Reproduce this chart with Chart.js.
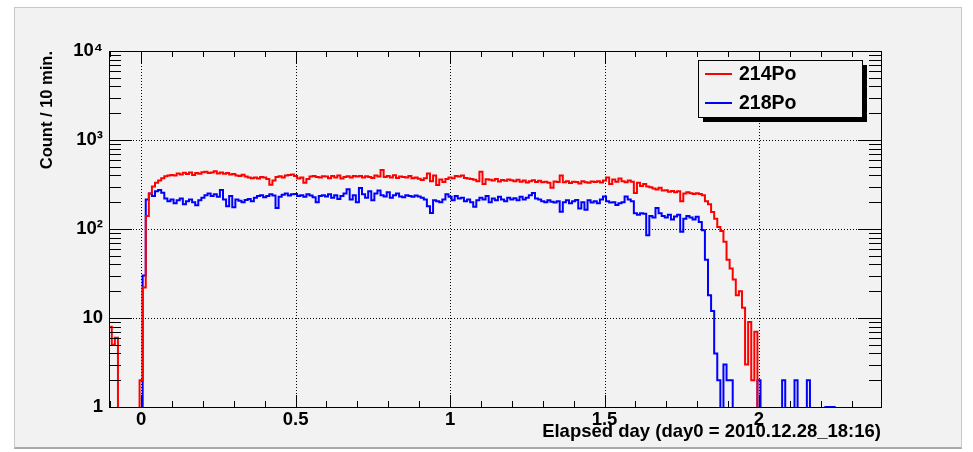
<!DOCTYPE html>
<html>
<head>
<meta charset="utf-8">
<script src="https://cdn.jsdelivr.net/npm/chart.js@4"></script>
<style>
  html, body { margin: 0; padding: 0; background: #fff; }
  #wrap { position: relative; width: 973px; height: 452px; overflow: hidden; }
  #pad { position: absolute; left: 14px; top: 7px; width: 946px; height: 439px;
         background: #f2f2f2; border: 1px solid #c8c8c8; border-bottom: 2px solid #a9a9a9; }
  canvas { position: absolute; left: 0; top: 0; }
</style>
</head>
<body>
<div id="wrap"><div id="pad"></div><canvas id="c" width="973" height="452"></canvas></div>
<script>
// histogram bins: 0.01 day wide, first bin centred on -0.10 day
const binStart = -0.10;
const binWidth = 0.01;

const seriesNames = ['214Po', '218Po'];
const seriesColors = ['#ff0000', '#0000ff'];

// counts / 10 min (0 = empty bin)
const po214 = [
  8, 5, 6, 0, 0, 0, 0, 0, 0, 0,
  2, 22, 140, 250, 300, 330, 350, 372, 392, 400,
  405, 398, 420, 410, 428, 415, 430, 405, 425, 418,
  435, 440, 425, 432, 445, 420, 430, 418, 425, 410,
  415, 400, 395, 408, 390, 378, 372, 380, 370, 385,
  378, 365, 315, 350, 385, 392, 380, 398, 405, 410,
  395, 370, 380, 330, 365, 390, 395, 385, 378, 392,
  388, 372, 395, 380, 398, 370, 385, 392, 378, 395,
  388, 395, 380, 392, 385, 375, 398, 390, 460, 385,
  395, 380, 402, 375, 390, 385, 378, 395, 372, 380,
  368, 355, 372, 420, 345, 400, 312, 360, 338, 365,
  380, 372, 395, 388, 400, 375, 370, 365, 358, 345,
  440, 320, 362, 358, 350, 365, 342, 355, 348, 360,
  352, 345, 358, 340, 350, 332, 345, 352, 338, 348,
  335, 340, 330, 290, 342, 338, 400, 335, 345, 328,
  340, 338, 325, 345, 335, 330, 342, 338, 345, 332,
  350, 380, 320, 360, 340, 370, 345, 335, 350, 340,
  253, 330, 305, 320, 300, 295, 285, 278, 290, 270,
  272, 262, 268, 258, 265, 205, 250, 258, 252, 248,
  252, 248, 240, 205, 190, 155, 130, 105, 95, 72,
  45, 36, 27, 18, 20, 13, 3, 9, 2, 7,
  0, 0, 0, 0, 0, 0, 0, 0, 0, 0,
  0, 0, 0, 0, 0, 0, 0, 0, 0, 0,
  0, 0, 0, 0, 0, 0, 0, 0, 0, 0,
  0, 0, 0, 0, 0, 0, 0, 0, 0, 0
];

const po218 = [
  0, 0, 0, 0, 0, 0, 0, 0, 0, 0,
  0, 30, 215, 250, 235, 265, 275, 255, 220, 205,
  215, 195, 210, 220, 190, 205, 215, 200, 185, 210,
  225, 240, 250, 235, 245, 230, 275, 215, 180, 235,
  175, 215, 208, 200, 212, 218, 205, 225, 235, 240,
  228, 235, 245, 238, 172, 230, 242, 250, 238, 245,
  248, 235, 240, 230, 245, 238, 228, 200, 235, 240,
  232, 245, 225, 240, 218, 235, 250, 280, 215, 240,
  200, 289, 245, 225, 265, 210, 250, 270, 240, 232,
  258, 225, 240, 250, 232, 228, 240, 235, 230, 238,
  232, 225, 215, 180, 151, 210, 205, 200, 215, 245,
  230, 210, 235, 220, 225, 205, 215, 200, 178, 210,
  225, 215, 235, 200, 220, 210, 230, 215, 205, 225,
  215, 222, 210, 230, 215, 225, 240, 253, 220, 215,
  205, 200, 210, 203, 198, 205, 156, 200, 210, 195,
  205, 212, 170, 200, 165, 210, 198, 205, 195, 215,
  232, 205, 198, 200, 186, 195, 200, 232, 215, 205,
  150, 145, 150, 148, 85, 140, 135, 172, 150, 140,
  135, 145, 128, 138, 145, 93, 130, 140, 135, 128,
  137, 120, 97, 45, 18, 12, 4, 2, 0, 3,
  2, 2, 0, 0, 0, 0, 0, 0, 0, 0,
  2, 0, 0, 0, 0, 0, 0, 0, 2, 0,
  0, 0, 2, 0, 0, 0, 2, 0, 0, 0,
  0, 0, 1, 1, 1, 0, 0, 0, 0, 0,
  0, 0, 0, 0, 0, 0, 0, 0, 0, 0
];

// axes
const xMin = -0.104, xMax = 2.395;
const xMajor = [0, 0.5, 1, 1.5, 2];
const xLabels = ['0', '0.5', '1', '1.5', '2'];
const xMinor = [-0.1, 0.1, 0.2, 0.3, 0.4, 0.6, 0.7, 0.8, 0.9, 1.1, 1.2, 1.3, 1.4,
                1.6, 1.7, 1.8, 1.9, 2.1, 2.2, 2.3];
const yMajor = [1, 10, 100, 1000, 10000];
const yLabels = ['1', '10', '10\u00b2', '10\u00b3', '10\u2074'];
const yMinorSteps = [2, 3, 4, 5, 6, 7, 8, 9];

const xTitle = 'Elapsed day (day0 = 2010.12.28_18:16)';
const yTitle = 'Count / 10 min.';

const FONT = "'Liberation Sans', Arial, Helvetica, sans-serif";

function toPoints(counts) {
  // empty bins go below the log axis so only their edges show (like ROOT)
  return counts.map((c, i) => ({ x: binStart + i * binWidth, y: c > 0 ? c : 0.5 }));
}

const rootFrame = {
  id: 'rootFrame',
  beforeDatasetsDraw(chart) {
    const { ctx, chartArea: a, scales: { x, y } } = chart;
    ctx.save();
    ctx.strokeStyle = '#000';
    ctx.lineWidth = 1;
    ctx.setLineDash([1, 2]);
    ctx.beginPath();
    xMajor.forEach(v => {
      const px = Math.round(x.getPixelForValue(v)) + 0.5;
      ctx.moveTo(px, a.top); ctx.lineTo(px, a.bottom);
    });
    yMajor.slice(1, -1).forEach(v => {
      const py = Math.round(y.getPixelForValue(v)) + 0.5;
      ctx.moveTo(a.left, py); ctx.lineTo(a.right, py);
    });
    ctx.stroke();
    ctx.restore();
  },
  afterDatasetsDraw(chart) {
    const { ctx, chartArea: a, scales: { x, y } } = chart;
    ctx.save();
    ctx.strokeStyle = '#000';
    ctx.lineWidth = 1;
    ctx.beginPath();
    // y ticks, left and right
    const yTick = (v, len) => {
      const py = Math.round(y.getPixelForValue(v)) + 0.5;
      ctx.moveTo(a.left, py); ctx.lineTo(a.left + len, py);
      ctx.moveTo(a.right, py); ctx.lineTo(a.right - len, py);
    };
    yMajor.forEach(v => yTick(v, 23));
    yMajor.slice(0, -1).forEach(d => yMinorSteps.forEach(m => yTick(m * d, 12)));
    // x ticks, bottom and top
    const xTick = (v, len) => {
      const px = Math.round(x.getPixelForValue(v)) + 0.5;
      ctx.moveTo(px, a.bottom); ctx.lineTo(px, a.bottom - len);
      ctx.moveTo(px, a.top); ctx.lineTo(px, a.top + len);
    };
    xMajor.forEach(v => xTick(v, 12));
    xMinor.forEach(v => xTick(v, 6));
    ctx.stroke();
    ctx.strokeRect(Math.round(a.left) + 0.5, Math.round(a.top) + 0.5,
                   Math.round(a.right - a.left), Math.round(a.bottom - a.top));

    // legend box with shadow
    const bx = 698, by = 60, bw = 164, bh = 57;
    ctx.fillStyle = '#000';
    ctx.fillRect(bx + 5, by + 5, bw, bh);
    ctx.fillStyle = '#f2f2f2';
    ctx.fillRect(bx, by, bw, bh);
    ctx.strokeRect(bx + 0.5, by + 0.5, bw, bh);
    ctx.font = 'bold 19.5px ' + FONT;
    ctx.textBaseline = 'middle';
    ctx.textAlign = 'left';
    chart.data.datasets.forEach((ds, i) => {
      const ly = by + 14 + i * 29;
      ctx.strokeStyle = ds.borderColor;
      ctx.lineWidth = 2;
      ctx.beginPath();
      ctx.moveTo(705, ly); ctx.lineTo(732, ly);
      ctx.stroke();
      ctx.fillStyle = '#000';
      ctx.fillText(ds.label, 739, ly + 1);
    });
    ctx.restore();
  }
};

new Chart(document.getElementById('c'), {
  type: 'line',
  data: {
    datasets: [
      { label: seriesNames[0], data: toPoints(po214), borderColor: seriesColors[0] },
      { label: seriesNames[1], data: toPoints(po218), borderColor: seriesColors[1] }
    ]
  },
  options: {
    responsive: false,
    animation: false,
    events: [],
    layout: { padding: { left: 0, top: 51, right: 92, bottom: 0 } },
    datasets: {
      line: { stepped: 'middle', borderWidth: 2, pointRadius: 0, fill: false, clip: 0 }
    },
    plugins: { legend: { display: false }, tooltip: { enabled: false } },
    scales: {
      x: {
        type: 'linear', min: xMin, max: xMax,
        grid: { display: false, drawTicks: false }, border: { display: false },
        afterBuildTicks: s => { s.ticks = xMajor.map(v => ({ value: v })); },
        afterFit: s => { s.height = 45; },
        ticks: {
          autoSkip: false, maxRotation: 0, padding: 2, color: '#000',
          font: { family: FONT, size: 18.5, weight: 'bold' },
          callback: (v, i) => xLabels[i]
        },
        title: {
          display: true, text: xTitle, align: 'end', color: '#000',
          font: { family: FONT, size: 18.5, weight: 'bold' },
          padding: { top: 0, bottom: 9 }
        }
      },
      y: {
        type: 'logarithmic', min: 1, max: 10000,
        grid: { display: false, drawTicks: false }, border: { display: false },
        afterBuildTicks: s => { s.ticks = yMajor.map(v => ({ value: v })); },
        afterFit: s => { s.width = 109; },
        ticks: {
          autoSkip: false, padding: 6, color: '#000',
          font: { family: FONT, size: 18.5, weight: 'bold' },
          callback: (v, i) => yLabels[i]
        },
        title: {
          display: true, text: yTitle, align: 'end', color: '#000',
          font: { family: FONT, size: 16.5, weight: 'bold' },
          padding: { top: 38, bottom: 0 }
        }
      }
    }
  },
  plugins: [rootFrame]
});
</script>
</body>
</html>
